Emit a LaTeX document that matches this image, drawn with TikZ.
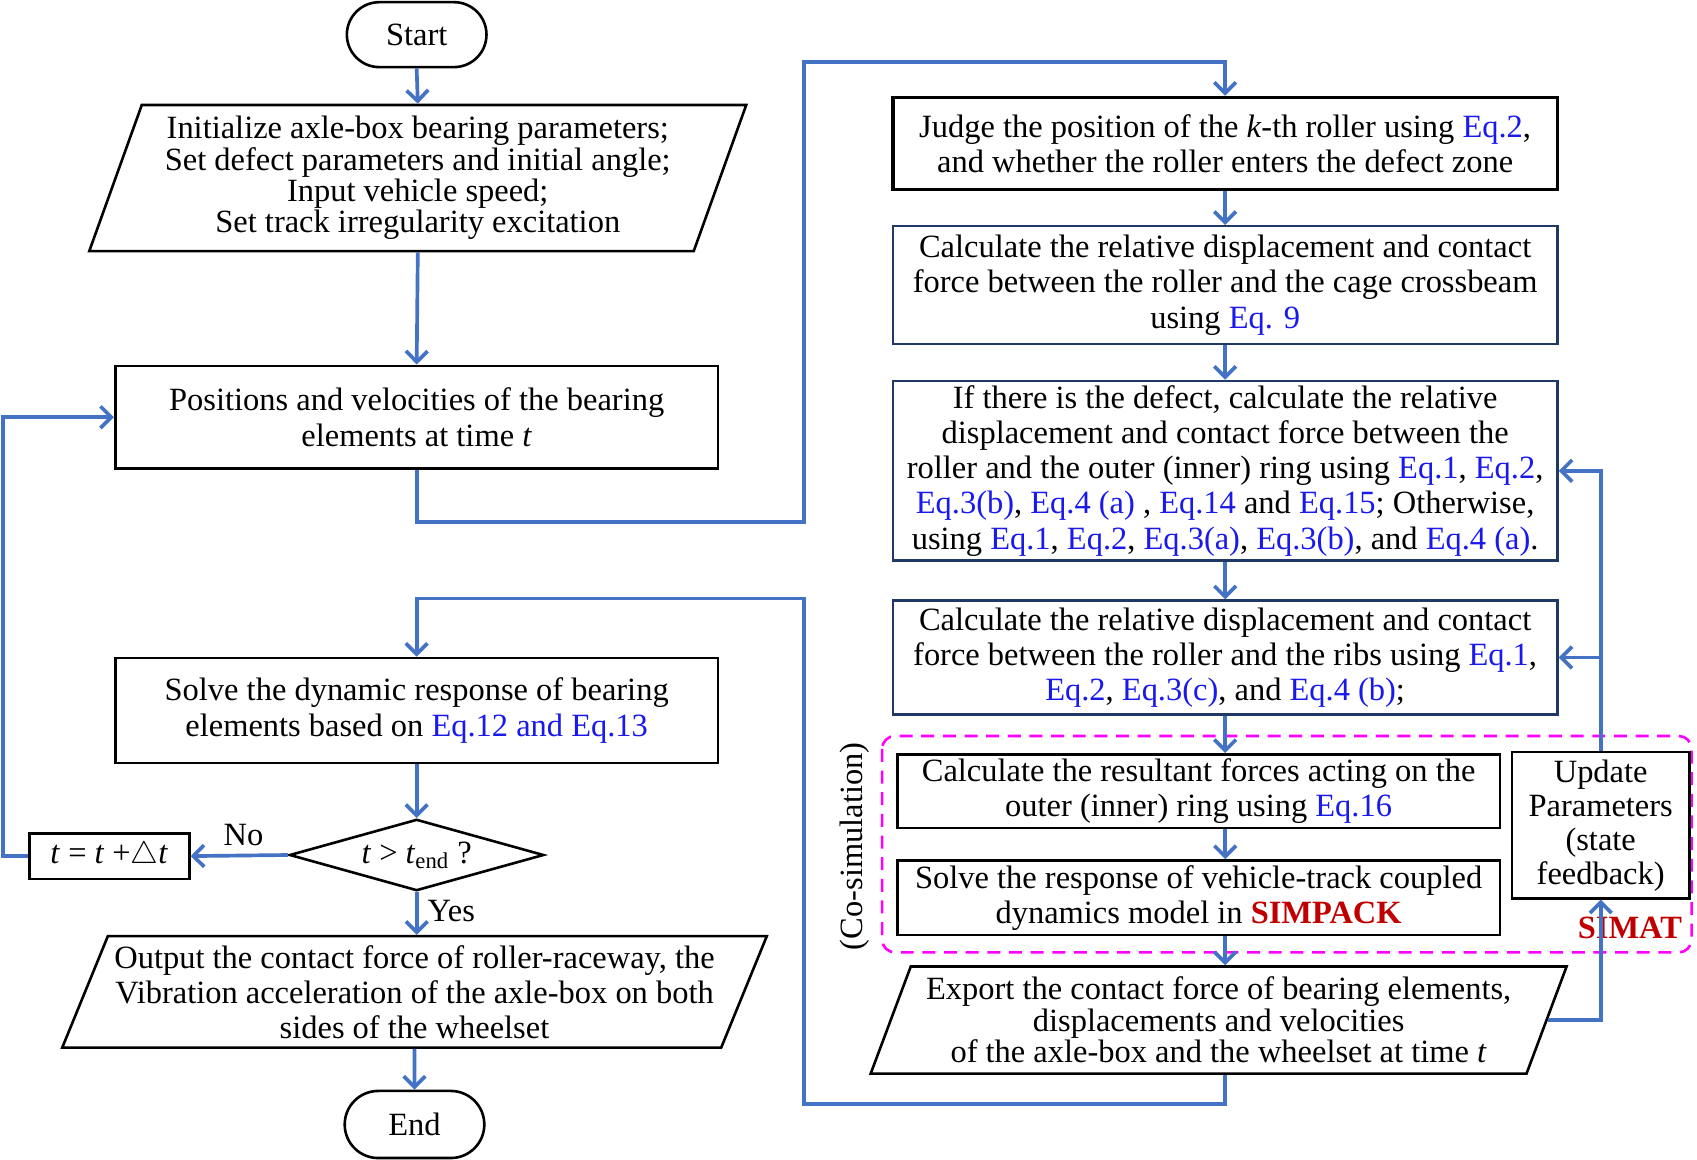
\documentclass[tikz,border=0pt]{standalone}
\usepackage{fontspec}
\setmainfont{Liberation Serif}
\usepackage{tikz}
\usetikzlibrary{calc,shapes.geometric,shapes.misc,arrows.meta}

\definecolor{flowblue}{RGB}{68,114,196}
\definecolor{eqblue}{RGB}{25,25,235}
\definecolor{simred}{RGB}{192,0,0}
\definecolor{boxnavy}{RGB}{31,56,100}
\definecolor{cosimpink}{RGB}{255,0,255}
\newcommand{\pxu}{0.5pt}
\newcommand{\eqc}[1]{\textcolor{eqblue}{#1}}

\begin{document}
\begin{tikzpicture}[x=0.5pt,y=-0.5pt,
  every node/.style={font=\fontsize{15}{16.25}\selectfont, align=center, inner sep=0pt},
  proc/.style={draw, line width=1.2pt, rectangle},
  leftbox/.style={proc, minimum width=557*\pxu},
  rightbox/.style={proc, draw=boxnavy, minimum width=614*\pxu},
  term/.style={draw, line width=1.2pt, rounded rectangle, minimum width=129*\pxu, minimum height=60*\pxu},
  io/.style={draw, line width=1.2pt, trapezium, trapezium stretches body},
  decide/.style={draw, line width=1.2pt, diamond, aspect=3.56},
  flow/.style={draw=flowblue, line width=1.7pt, -{Straight Barb[length=5pt,width=10pt]}}]
  \useasboundingbox (0,0) rectangle (1568,1071);

  %% Left column: set up, solve and stop
  \node[term] (start) at (385,32) {Start};
  \node[io, trapezium left angle=67, trapezium right angle=113,
        minimum width=607*\pxu, minimum height=135*\pxu,
        font=\fontsize{15}{14.5}\selectfont] (init) at (386,164.5)
    {Initialize axle-box bearing parameters;\\ Set defect parameters and initial angle;\\
     Input vehicle speed;\\ Set track irregularity excitation};
  \node[leftbox, minimum height=95*\pxu] (pos) at (385,385.5)
    {Positions and velocities of the bearing\\ elements at time \textit{t}};
  \node[leftbox, minimum height=97*\pxu] (solve) at (385,656.5)
    {Solve the dynamic response of bearing\\ elements based on \eqc{Eq.12 and Eq.13}};
  \node[decide, minimum width=235*\pxu, minimum height=66*\pxu] (dec) at (385,790)
    {\textit{t} > \textit{t}\textsubscript{end} ?};
  \node[proc, minimum width=148*\pxu, minimum height=42*\pxu] (incr) at (101,791)
    {\textit{t} = \textit{t} +$\triangle$\textit{t}};
  \node[io, trapezium left angle=64, trapezium right angle=116,
        minimum width=651*\pxu, minimum height=103*\pxu] (output) at (383,916.5)
    {Output the contact force of roller-raceway, the\\ Vibration acceleration of the axle-box on both\\
     sides of the wheelset};
  \node[term, minimum height=62*\pxu] (end) at (383,1039) {End};
  \node (lblno) at (225,772) {No};
  \node (lblyes) at (417,842) {Yes};

  %% Right column: bearing contact calculations
  \node[rightbox, draw=black, line width=1.6pt, minimum height=85*\pxu] (judge) at (1132,132.5)
    {Judge the position of the \textit{k}-th roller using \eqc{Eq.2},\\ and whether the roller enters the defect zone};
  \node[rightbox, minimum height=109*\pxu] (cage) at (1132,263.5)
    {Calculate the relative displacement and contact\\ force between the roller and the cage crossbeam\\ using \eqc{Eq. 9}};
  \node[rightbox, minimum height=166*\pxu] (defect) at (1132,435)
    {If there is the defect, calculate the relative\\ displacement and contact force between the\\
     roller and the outer (inner) ring using \eqc{Eq.1}, \eqc{Eq.2},\\
     \eqc{Eq.3(b)}, \eqc{Eq.4 (a)} , \eqc{Eq.14} and \eqc{Eq.15}; Otherwise,\\
     using \eqc{Eq.1}, \eqc{Eq.2}, \eqc{Eq.3(a)}, \eqc{Eq.3(b)}, and \eqc{Eq.4 (a)}.};
  \node[rightbox, minimum height=105*\pxu] (ribs) at (1132,607.5)
    {Calculate the relative displacement and contact\\ force between the roller and the ribs using \eqc{Eq.1},\\
     \eqc{Eq.2}, \eqc{Eq.3(c)}, and \eqc{Eq.4 (b)};};

  %% Co-simulation part
  \draw[cosimpink, line width=1.2pt, dash pattern=on 6pt off 4pt, rounded corners=6pt]
    (815,680) rectangle (1563,880);
  \node[leftbox, minimum height=68*\pxu] (result) at (1107.5,731)
    {Calculate the resultant forces acting on the\\ outer (inner) ring using \eqc{Eq.16}};
  \node[leftbox, minimum height=69*\pxu] (simpack) at (1107.5,829.5)
    {Solve the response of vehicle-track coupled\\ dynamics model in \textcolor{simred}{\textbf{SIMPACK}}};
  \node[proc, minimum width=164*\pxu, minimum height=135*\pxu,
        font=\fontsize{15}{15.7}\selectfont] (update) at (1479,762.5)
    {Update\\ Parameters\\ (state\\ feedback)};
  \node[text=simred, font=\bfseries\fontsize{15}{16}\selectfont] (simat) at (1506,857) {SIMAT};
  \node[rotate=90] (cosim) at (790,782) {(Co-simulation)};
  \node[io, trapezium left angle=65, trapezium right angle=115,
        minimum width=643*\pxu, minimum height=99*\pxu,
        font=\fontsize{15}{14.5}\selectfont] (export) at (1126,942.5)
    {Export the contact force of bearing elements,\\ displacements and velocities\\
     of the axle-box and the wheelset at time \textit{t}};

  %% Connectors
  \foreach \a/\b in {start/init, init/pos, solve/dec, output/end, judge/cage, cage/defect, defect/ribs}
    \draw[flow] (\a.south) -- (\b.north);
  \foreach \a/\b in {ribs/result, result/simpack, simpack/export}
    \draw[flow] (\a.south -| judge.south) -- (\b.north -| judge.south);
  \draw[flow] (dec.south) -- (output.north -| dec.south);
  \draw[flow] (dec.west) -- (incr.east);

  \coordinate (jogA) at (743,482);
  \coordinate (jogB) at (743,57);
  \draw[flow] (pos.south) |- (jogA) -- (jogB) -| (judge.north);
  \coordinate (jogC) at (743,1020);
  \coordinate (jogD) at (743,553);
  \draw[flow] (export.south -| judge.south) |- (jogC) -- (jogD) -| (solve.north);
  \coordinate (jogE) at (3,791);
  \draw[flow] (incr.west) -- (jogE) |- (pos.west);

  \draw[flow] (export.east) -| (update.south);
  \draw[flow] (update.north) |- (defect.east);
  \coordinate (fork) at (update.north |- ribs.east);
  \draw[flow] (fork) -- (ribs.east);
\end{tikzpicture}
\end{document}
